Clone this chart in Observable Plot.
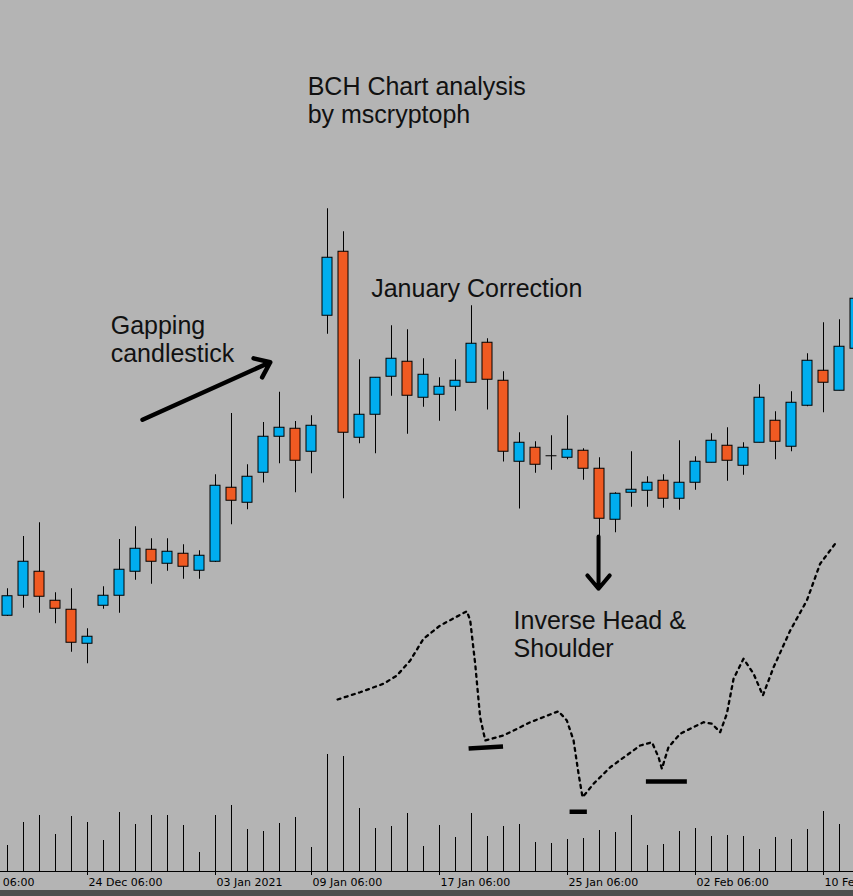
<!DOCTYPE html>
<html>
<head>
<meta charset="utf-8">
<script src="https://cdn.jsdelivr.net/npm/d3@7"></script>
<script src="https://cdn.jsdelivr.net/npm/@observablehq/plot@0.6"></script>
<style>
  html, body { margin: 0; padding: 0; background: #b4b4b4; overflow: hidden; }
  #wrap { position: relative; width: 853px; height: 896px; overflow: hidden; background: #b4b4b4; }
  #wrap svg { position: absolute; left: 0; }
  #band { position: absolute; left: 0; top: 890px; width: 853px; height: 6px; background: #4e4e4e; }
</style>
</head>
<body>
<div id="wrap"><div id="band"></div></div>
<script>
// ---- Candle data (index 0 = first visible candle) ----
const open  = [307.8,323.8,343.0,319.8,312.6,285.4,315.8,323.8,343.0,360.6,
               349.4,357.4,343.8,351.0,410.2,398.2,422.2,451.0,457.4,439.0,
               547.8,599.0,450.2,468.6,499.0,511.0,482.2,484.6,491.0,494.2,
               526.2,495.8,431.0,442.2,435.8,434.2,439.8,425.4,384.6,406.2,
               407.8,415.8,401.4,414.2,430.2,443.8,427.8,446.2,463.8,443.0,
               475.8,503.8,487.8,521.4];
const high  = [329.4,371.2,382.2,326.2,329.4,297.4,331.0,368.8,379.0,369.4,
               369.4,364.6,359.8,420.6,469.6,428.6,462.4,486.6,463.2,467.8,
               633.4,615.0,512.6,498.2,539.8,536.6,513.4,498.2,512.6,555.8,
               529.4,503.0,454.2,447.0,451.8,467.8,441.4,434.2,406.2,439.0,
               419.0,420.6,447.8,435.0,453.4,458.2,446.2,492.6,471.0,487.0,
               517.4,542.2,544.6,576.0];
const low   = [307.2,313.8,309.8,301.4,278.6,269.4,313.0,309.8,336.2,333.0,
               343.4,337.0,337.0,350.4,380.6,392.6,414.0,429.4,406.2,421.4,
               533.0,401.4,445.4,437.4,483.4,453.0,474.6,463.4,471.4,494.2,
               472.4,430.8,393.2,421.8,424.2,432.6,416.2,372.0,374.2,394.6,
               394.6,393.8,392.2,408.2,430.2,415.4,420.2,446.2,432.6,439.0,
               475.0,470.2,487.8,518.4];
const close = [323.4,351.0,323.0,313.4,286.2,291.0,323.8,344.6,361.4,351.0,
               359.0,347.0,355.8,411.8,399.8,419.0,451.0,458.2,431.8,459.8,
               594.2,454.2,468.6,498.2,513.4,483.8,500.6,491.0,495.8,525.4,
               496.6,439.0,446.2,428.6,435.8,440.6,425.4,385.4,405.4,408.6,
               414.2,401.4,414.2,431.0,447.8,431.8,442.2,482.2,447.0,478.2,
               511.8,494.2,523.0,561.4];
const volume = [130,245,280,185,275,245,155,295,235,280,
                280,230,95,280,330,210,200,240,270,120,
                585,575,315,215,225,290,125,230,170,290,
                175,225,235,145,140,160,165,205,195,280,
                130,135,200,215,175,180,175,110,170,160,
                210,300,235,200];

// ---- Axis ticks ----
const tickIdx    = [-3, 5, 13, 19, 27, 35, 43, 51];
const tickLabels = ["16 Dec 06:00","24 Dec 06:00","03 Jan 2021","09 Jan 06:00",
                    "17 Jan 06:00","25 Jan 06:00","02 Feb 06:00","10 Feb 06:00"];

// ---- Hand-drawn inverse head & shoulders sketch (candle index, price) ----
const hsIdx   = [20.63,22.04,23.5,24.34,25.17,26.0,27.04,28.71,28.92,29.23,29.54,29.86,
                 31.0,32.67,34.44,34.96,35.38,35.69,35.94,36.63,37.67,39.54,40.28,40.69,
                 40.9,41.31,42.04,43.5,44.03,44.54,44.96,45.38,46.0,46.63,47.21,47.88,
                 48.92,49.96,50.79,51.73];
const hsPrice = [240.8,246.6,253.4,260.0,272.0,289.4,300.0,311.4,304.0,269.4,226.6,208.0,
                 212.0,222.6,231.4,224.0,208.0,181.4,162.6,173.4,186.6,204.0,206.6,194.6,
                 185.4,202.6,213.4,222.6,221.4,214.6,229.4,257.4,273.4,261.4,244.0,266.6,
                 296.0,320.0,349.4,365.4];
// thick marker bars under the troughs
const markX1 = [28.82, 35.13, 39.9];
const markX2 = [30.97, 36.21, 42.46];
const markY1 = [201.6, 151.0, 175.2];
const markY2 = [203.2, 151.0, 175.2];

// ---- Annotations ----
const noteText = ["BCH Chart analysis\nby mscryptoph","January Correction","Gapping\ncandlestick","Inverse Head &\nShoulder"];
const noteIdx  = [18.76, 22.73, 6.45, 31.63];
const notePrice= [702.2, 562.6, 510.6, 275.2];

const gapArrow  = {x1: 8.44, y1: 464.6, x2: 16.42, y2: 510.6};
const downArrow = {x1: 36.94, y1: 371.2, x2: 36.94, y2: 329.4};

// ---- Build tables ----
const candles = open.map((o, i) => ({i, open: o, high: high[i], low: low[i], close: close[i], volume: volume[i]}));
const bulls = candles.filter(d => d.close > d.open);
const bears = candles.filter(d => d.close < d.open);
const dojis = candles.filter(d => d.close === d.open);
const hs = hsIdx.map((x, k) => ({i: x, p: hsPrice[k]}));
const marks = markX1.map((x, k) => ({x1: x, x2: markX2[k], y1: markY1[k], y2: markY2[k]}));
const notes = noteText.map((t, k) => ({t, i: noteIdx[k], p: notePrice[k]}));
const ticks = tickIdx.map((x, k) => ({i: x, label: tickLabels[k]}));

const BLUE = "#00AEEF", ORANGE = "#F05A22";
const xDomain = [-7/16, (853 - 7)/16];
const halfW = 0.3125;

const main = Plot.plot({
  width: 853, height: 896, margin: 0,
  x: {domain: xDomain, axis: null},
  y: {domain: [83.2, 800], axis: null},
  style: {background: "transparent", fontFamily: "'Liberation Sans', Arial, sans-serif", overflow: "hidden"},
  marks: [
    Plot.ruleX(candles, {x: "i", y1: "low", y2: "high", stroke: "black", strokeWidth: 1}),
    Plot.rect(bulls, {x1: d => d.i - halfW, x2: d => d.i + halfW, y1: "open", y2: "close", fill: BLUE, stroke: "black", strokeWidth: 1}),
    Plot.rect(bears, {x1: d => d.i - halfW, x2: d => d.i + halfW, y1: "open", y2: "close", fill: ORANGE, stroke: "black", strokeWidth: 1}),
    Plot.ruleY(dojis, {y: "close", x1: d => d.i - 0.34, x2: d => d.i + 0.34, stroke: "black", strokeWidth: 1}),
    Plot.line(hs, {x: "i", y: "p", stroke: "black", strokeWidth: 2.3, strokeDasharray: "3,4.5"}),
    Plot.link(marks, {x1: "x1", y1: "y1", x2: "x2", y2: "y2", stroke: "black", strokeWidth: 4.5}),
    Plot.arrow([gapArrow], {x1: "x1", y1: "y1", x2: "x2", y2: "y2", stroke: "black", strokeWidth: 4.5, headLength: 5.7, headAngle: 75}),
    Plot.arrow([downArrow], {x1: "x1", y1: "y1", x2: "x2", y2: "y2", stroke: "black", strokeWidth: 4, headLength: 7.5, headAngle: 80}),
    Plot.text(notes, {x: "i", y: "p", text: "t", textAnchor: "start", lineAnchor: "bottom", lineHeight: 1.115, fontSize: 25, fill: "#111"})
  ]
});
main.style.top = "0px";

const vol = Plot.plot({
  width: 853, height: 156, marginTop: 0, marginBottom: 25, marginLeft: 0, marginRight: 0,
  x: {domain: xDomain, axis: null},
  y: {domain: [0, 655], axis: null},
  style: {background: "transparent", fontFamily: "'DejaVu Sans', sans-serif", fontSize: "11px", color: "black", overflow: "hidden"},
  marks: [
    Plot.ruleX(candles, {x: "i", y1: 0, y2: "volume", stroke: "black", strokeWidth: 1}),
    Plot.ruleY([0], {stroke: "black", strokeWidth: 1}),
    // tick marks below the baseline (4px = 20 volume units)
    Plot.ruleX(ticks, {x: "i", y1: 0, y2: -20, stroke: "black", strokeWidth: 1}),
    Plot.text(ticks, {x: "i", y: 0, text: "label", textAnchor: "start", lineAnchor: "top", dx: 1, dy: 7, fontSize: 11, fill: "black"})
  ]
});
vol.style.top = "740px";

const wrap = document.getElementById("wrap");
wrap.insertBefore(main, wrap.firstChild);
wrap.insertBefore(vol, document.getElementById("band"));
</script>
</body>
</html>
